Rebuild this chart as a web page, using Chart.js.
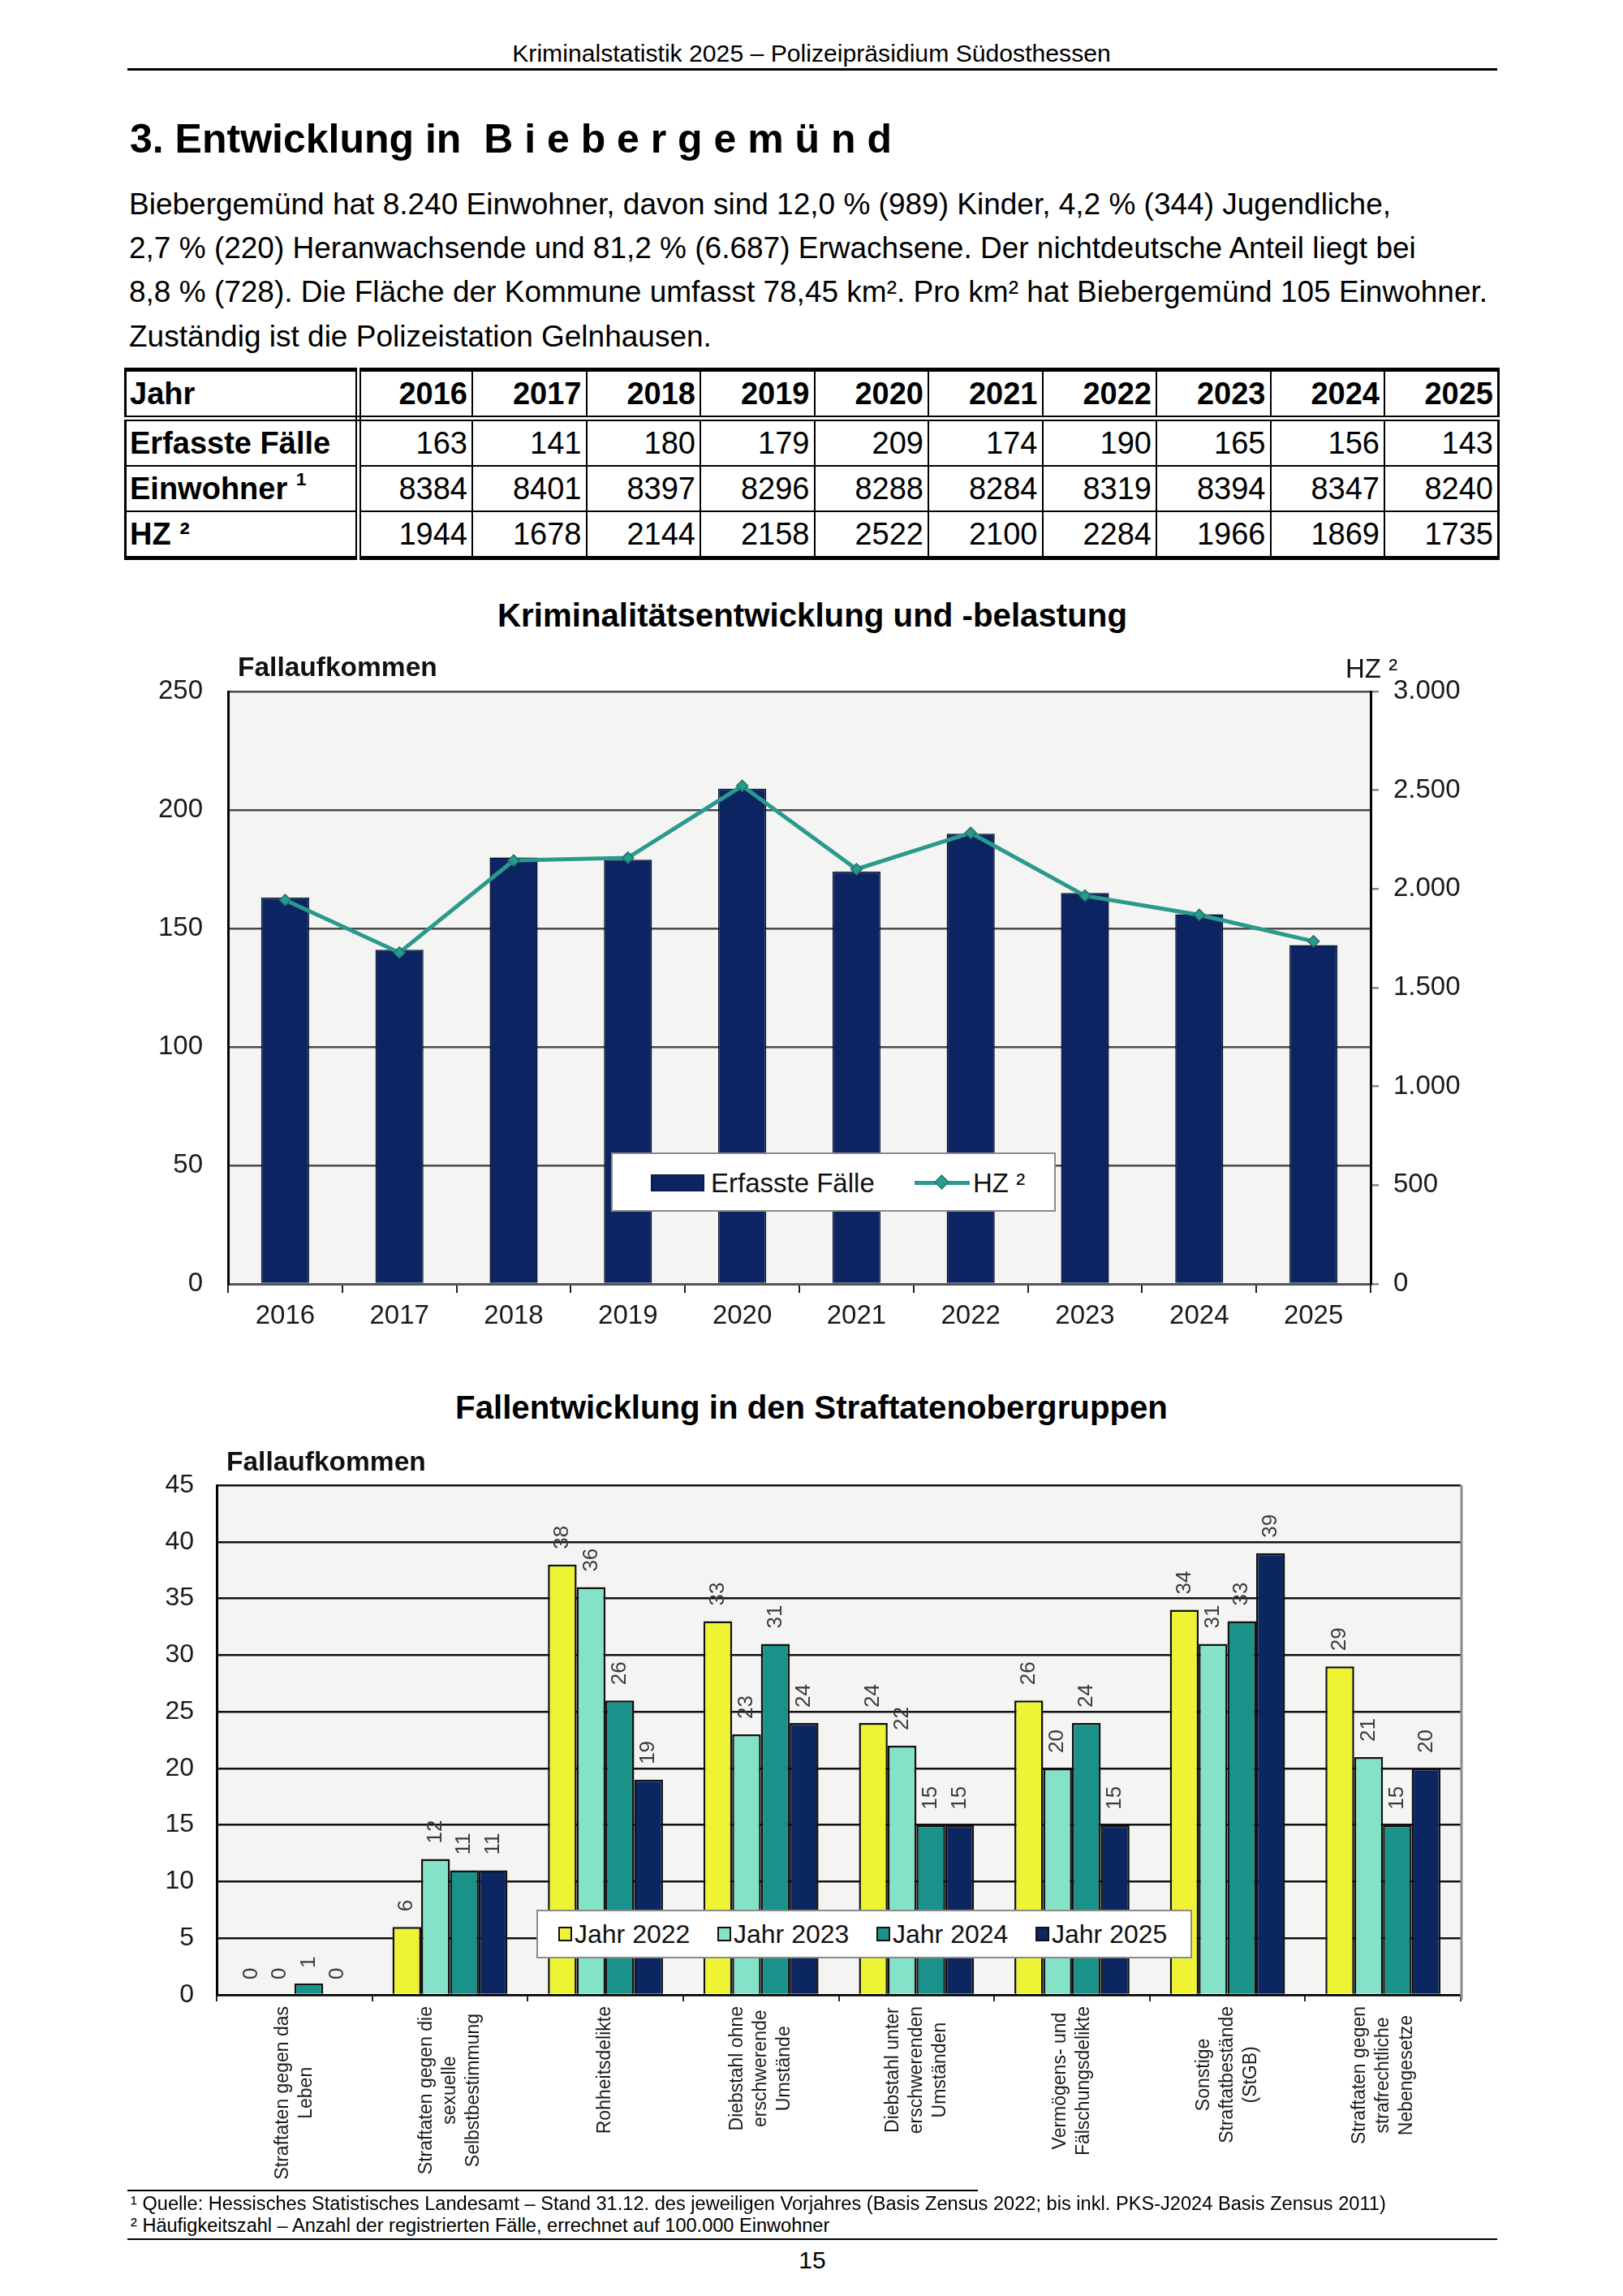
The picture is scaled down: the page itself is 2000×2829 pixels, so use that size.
<!DOCTYPE html>
<html lang="de">
<head>
<meta charset="utf-8">
<title>Kriminalstatistik 2025 – Biebergemünd</title>
<script src="https://cdn.jsdelivr.net/npm/chart.js@4.4.1/dist/chart.umd.min.js"></script>
<style>
html,body{margin:0;padding:0;background:#fff;}
#page{position:relative;width:2000px;height:2829px;overflow:hidden;background:#fff;font-family:'Liberation Sans',Arial,Helvetica,sans-serif;color:#000;}
.t{position:absolute;white-space:pre;line-height:1;}
.rule{position:absolute;background:#000;}
canvas{position:absolute;}
#tbl{position:absolute;left:153px;top:453px;width:1695px;border-collapse:collapse;table-layout:fixed;font-size:38px;}
#tbl td{border:2px solid #000;height:54px;padding:0 5px 0 0;text-align:right;line-height:1;vertical-align:middle;}
#tbl tr:first-child td{font-weight:bold;border-bottom:7px double #000;border-top:5px solid #000;}
#tbl tr:last-child td{border-bottom:5px solid #000;}
#tbl td:first-child{text-align:left;font-weight:bold;padding-left:4px;border-right:7px double #000;border-left:3px solid #000;}
#tbl td:last-child{border-right:3px solid #000;}
#tbl sup{font-size:0.6em;line-height:0;vertical-align:0.75em;}
.legend{position:absolute;background:#fff;border:2px solid #8a8a8a;box-sizing:border-box;}
.lg-item{position:absolute;white-space:nowrap;line-height:1;}
</style>
</head>
<body>
<div id="page">
  <div class="t" data-f="31" data-w="738" data-cx="1000" data-cy="66">Kriminalstatistik 2025 – Polizeipräsidium Südosthessen</div>
  <div class="rule" style="left:157px;top:84px;width:1688px;height:3px;"></div>

  <div class="t" style="font-weight:bold;left:160px;" data-f="50" data-cy="171">3. Entwicklung in  B i e b e r g e m ü n d</div>

  <div class="t" style="left:159px;" data-f="37" data-cy="251">Biebergemünd hat 8.240 Einwohner, davon sind 12,0 % (989) Kinder, 4,2 % (344) Jugendliche,</div>
  <div class="t" style="left:159px;" data-f="37" data-cy="305">2,7 % (220) Heranwachsende und 81,2 % (6.687) Erwachsene. Der nichtdeutsche Anteil liegt bei</div>
  <div class="t" style="left:159px;" data-f="37" data-cy="359">8,8 % (728). Die Fläche der Kommune umfasst 78,45 km². Pro km² hat Biebergemünd 105 Einwohner.</div>
  <div class="t" style="left:159px;" data-f="37" data-cy="414">Zuständig ist die Polizeistation Gelnhausen.</div>

  <table id="tbl"></table>

  <div class="t" style="font-weight:bold;" data-f="40" data-w="776" data-cx="1001" data-cy="759">Kriminalitätsentwicklung und -belastung</div>
  <canvas id="c1" width="1700" height="880" style="left:150px;top:780px;width:1700px;height:880px;"></canvas>
  <div class="t" style="font-weight:bold;left:293px;color:#111;" data-f="33.5" data-cy="822">Fallaufkommen</div>
  <div class="t" style="left:1658px;color:#111;" data-f="33" data-cy="823">HZ ²</div>
  <div class="legend" id="lg1" style="left:753px;top:1420px;width:548px;height:73px;"></div>

  <div class="t" style="font-weight:bold;" data-f="40" data-w="878" data-cx="1000" data-cy="1735">Fallentwicklung in den Straftatenobergruppen</div>
  <canvas id="c2" width="1700" height="930" style="left:150px;top:1770px;width:1700px;height:930px;"></canvas>
  <div class="t" style="font-weight:bold;left:279px;color:#111;" data-f="33.5" data-cy="1801">Fallaufkommen</div>
  <div class="legend" id="lg2" style="left:661px;top:2353px;width:808px;height:60px;"></div>

  <div class="rule" style="left:157px;top:2698px;width:1048px;height:2px;"></div>
  <div class="t" style="left:161px;" data-f="23" data-w="1547" data-cy="2716">¹ Quelle: Hessisches Statistisches Landesamt – Stand 31.12. des jeweiligen Vorjahres (Basis Zensus 2022; bis inkl. PKS-J2024 Basis Zensus 2011)</div>
  <div class="t" style="left:161px;" data-f="23" data-w="862" data-cy="2743">² Häufigkeitszahl – Anzahl der registrierten Fälle, errechnet auf 100.000 Einwohner</div>
  <div class="rule" style="left:157px;top:2758px;width:1688px;height:2px;"></div>
  <div class="t" data-f="30" data-cx="1001" data-cy="2785">15</div>
</div>

<script>
// ---------- data ----------
const years = ['2016','2017','2018','2019','2020','2021','2022','2023','2024','2025'];
const cases = [163, 141, 180, 179, 209, 174, 190, 165, 156, 143];
const population = [8384, 8401, 8397, 8296, 8288, 8284, 8319, 8394, 8347, 8240];
const hzValues = [1944, 1678, 2144, 2158, 2522, 2100, 2284, 1966, 1869, 1735];

const tableRowLabels = ['Jahr', 'Erfasste Fälle', 'Einwohner <sup>1</sup>', 'HZ ²'];
const chart1SeriesNames = ['Erfasste Fälle', 'HZ ²'];

const groupLabels = [
  ['Straftaten gegen das', 'Leben'],
  ['Straftaten gegen die', 'sexuelle', 'Selbstbestimmung'],
  ['Rohheitsdelikte'],
  ['Diebstahl ohne', 'erschwerende', 'Umstände'],
  ['Diebstahl unter', 'erschwerenden', 'Umständen'],
  ['Vermögens- und', 'Fälschungsdelikte'],
  ['Sonstige', 'Straftatbestände', '(StGB)'],
  ['Straftaten gegen', 'strafrechtliche', 'Nebengesetze']
];
const seriesNames = ['Jahr 2022', 'Jahr 2023', 'Jahr 2024', 'Jahr 2025'];
const series2022 = [0, 6, 38, 33, 24, 26, 34, 29];
const series2023 = [0, 12, 36, 23, 22, 20, 31, 21];
const series2024 = [1, 11, 26, 31, 15, 24, 33, 15];
const series2025 = [0, 11, 19, 24, 15, 15, 39, 20];

// ---------- styles ----------
const FONT = "'Liberation Sans', Arial, Helvetica, sans-serif";
const NAVY = '#0c2462';
const TEAL_LINE = '#2b998d';
const seriesColors = ['#eef434', '#84e2c9', '#1a9189', '#0c2662'];

// ---------- text placement ----------
document.querySelectorAll('.t').forEach(el => {
  let F = parseFloat(el.dataset.f);
  el.style.fontSize = F + 'px';
  if (el.dataset.w) {
    const w = el.getBoundingClientRect().width;
    F = F * parseFloat(el.dataset.w) / w;
    el.style.fontSize = F + 'px';
  }
  const w2 = el.getBoundingClientRect().width;
  if (el.dataset.cx) el.style.left = (parseFloat(el.dataset.cx) - w2 / 2) + 'px';
  el.style.top = (parseFloat(el.dataset.cy) - F * 0.5) + 'px';
});

// ---------- table ----------
(function buildTable() {
  const tbl = document.getElementById('tbl');
  const rows = [years, cases, population, hzValues];
  let html = '<colgroup><col style="width:287px">' + years.map(() => '<col>').join('') + '</colgroup>';
  rows.forEach((r, i) => {
    html += '<tr><td>' + tableRowLabels[i] + '</td>' + r.map(v => '<td>' + v + '</td>').join('') + '</tr>';
  });
  tbl.innerHTML = html;
})();

// ---------- helpers ----------
function fmtDE(v) {
  return String(v).replace(/\B(?=(\d{3})+(?!\d))/g, '.');
}
const plotBg = {
  id: 'plotBg',
  beforeDraw(chart, args, opts) {
    const a = chart.chartArea, ctx = chart.ctx;
    ctx.save();
    ctx.fillStyle = opts.color || '#f4f5f3';
    ctx.fillRect(a.left, a.top, a.right - a.left, a.bottom - a.top);
    ctx.restore();
  },
  afterDraw(chart, args, opts) {
    if (!opts.rightBorder) return;
    const a = chart.chartArea, ctx = chart.ctx;
    ctx.save();
    ctx.strokeStyle = opts.rightBorder;
    ctx.lineWidth = 3;
    ctx.beginPath();
    ctx.moveTo(a.right + 1, a.top);
    ctx.lineTo(a.right + 1, a.bottom + 6);
    ctx.stroke();
    ctx.restore();
  }
};

Chart.defaults.font.family = FONT;
Chart.defaults.color = '#1a1a1a';

// ---------- chart 1 ----------
new Chart(document.getElementById('c1'), {
  type: 'bar',
  data: {
    labels: years,
    datasets: [
      {
        type: 'line', label: chart1SeriesNames[1], data: hzValues, yAxisID: 'yR',
        borderColor: TEAL_LINE, borderWidth: 5, tension: 0,
        pointStyle: 'rectRot', pointRadius: 7, pointBackgroundColor: TEAL_LINE,
        pointBorderColor: '#1f7269', pointBorderWidth: 1.5, order: 0
      },
      {
        type: 'bar', label: chart1SeriesNames[0], data: cases, yAxisID: 'yL',
        backgroundColor: NAVY, borderColor: '#05112f', borderWidth: 1.5,
        barPercentage: 0.42, categoryPercentage: 1, order: 1
      }
    ]
  },
  options: {
    responsive: false, animation: false, devicePixelRatio: 1,
    layout: { padding: { top: 72, left: 0, right: 0, bottom: 0 } },
    plugins: { legend: { display: false }, tooltip: { enabled: false }, title: { display: false },
      plotBg: { color: '#f4f5f3' } },
    scales: {
      x: {
        offset: true,
        grid: { offset: true, drawOnChartArea: false, tickLength: 11, color: '#222', lineWidth: 2 },
        border: { display: true, color: '#555', width: 3 },
        ticks: { font: { size: 33 }, color: '#1a1a1a', padding: 9, maxRotation: 0, minRotation: 0 },
        afterFit(s) { s.height = 78; }
      },
      yL: {
        position: 'left', min: 0, max: 250,
        ticks: { stepSize: 50, font: { size: 33 }, padding: 31, color: '#1a1a1a' },
        grid: { color: '#4a4a4a', lineWidth: 2.5, drawTicks: false },
        border: { color: '#000', width: 3 },
        afterFit(s) { s.width = 131; }
      },
      yR: {
        position: 'right', min: 0, max: 3000,
        ticks: { stepSize: 500, font: { size: 33 }, padding: 18, color: '#1a1a1a', callback: v => fmtDE(v) },
        grid: { drawOnChartArea: false, tickLength: 10, color: '#888', lineWidth: 2.5 },
        border: { color: '#000', width: 3 },
        afterFit(s) { s.width = 161; }
      }
    }
  },
  plugins: [plotBg]
});

// legend 1 (HTML, from series names / colours)
(function legend1() {
  const lg = document.getElementById('lg1');
  lg.innerHTML =
    '<div class="lg-item" style="left:47px;top:25px;width:66px;height:21px;background:' + NAVY + ';border:1px solid #05112f;box-sizing:border-box;"></div>' +
    '<div class="lg-item" style="left:121px;top:19px;font-size:33px;color:#111;">' + chart1SeriesNames[0] + '</div>' +
    '<div class="lg-item" style="left:372px;top:33px;width:68px;height:5px;background:' + TEAL_LINE + ';"></div>' +
    '<div class="lg-item" style="left:399px;top:28px;width:11px;height:11px;background:' + TEAL_LINE + ';border:1px solid #1f7269;transform:rotate(45deg);"></div>' +
    '<div class="lg-item" style="left:444px;top:19px;font-size:33px;color:#111;">' + chart1SeriesNames[1] + '</div>';
})();

// ---------- chart 2 ----------
const valueLabels = {
  id: 'valueLabels',
  afterDatasetsDraw(chart) {
    const ctx = chart.ctx;
    ctx.save();
    ctx.font = '26px ' + FONT;
    ctx.fillStyle = '#3a3a3a';
    ctx.textAlign = 'left';
    ctx.textBaseline = 'middle';
    chart.data.datasets.forEach((ds, di) => {
      const meta = chart.getDatasetMeta(di);
      meta.data.forEach((el, i) => {
        ctx.save();
        ctx.translate(el.x, el.y - 19);
        ctx.rotate(-Math.PI / 2);
        ctx.fillText(String(ds.data[i]), 0, 0);
        ctx.restore();
      });
    });
    ctx.restore();
  }
};
const categoryLabels = {
  id: 'categoryLabels',
  afterDraw(chart) {
    const ctx = chart.ctx, xs = chart.scales.x;
    ctx.save();
    ctx.font = '23px ' + FONT;
    ctx.fillStyle = '#1a1a1a';
    ctx.textAlign = 'center';
    ctx.textBaseline = 'middle';
    const lh = 29;
    chart.data.labels.forEach((lines, i) => {
      const x = xs.getPixelForValue(i);
      const maxW = Math.max(...lines.map(l => ctx.measureText(l).width));
      ctx.save();
      ctx.translate(x, xs.top + 14);
      ctx.rotate(-Math.PI / 2);
      lines.forEach((l, k) => {
        ctx.fillText(l, -maxW / 2, (k - (lines.length - 1) / 2) * lh);
      });
      ctx.restore();
    });
    ctx.restore();
  }
};

const allSeries = [series2022, series2023, series2024, series2025];
new Chart(document.getElementById('c2'), {
  type: 'bar',
  data: {
    labels: groupLabels,
    datasets: allSeries.map((d, i) => ({
      label: seriesNames[i], data: d,
      backgroundColor: seriesColors[i], borderColor: '#111', borderWidth: 2.5,
      categoryPercentage: 0.74, barPercentage: 1
    }))
  },
  options: {
    responsive: false, animation: false, devicePixelRatio: 1,
    layout: { padding: { top: 60, left: 0, right: 50, bottom: 0 } },
    plugins: { legend: { display: false }, tooltip: { enabled: false }, title: { display: false },
      plotBg: { color: '#f4f5f3', rightBorder: '#8c8c8c' } },
    scales: {
      x: {
        offset: true,
        grid: { offset: true, drawOnChartArea: false, tickLength: 8, color: '#222', lineWidth: 2 },
        border: { display: true, color: '#000', width: 2.5 },
        ticks: { display: false },
        afterFit(s) { s.height = 242; }
      },
      y: {
        min: 0, max: 45,
        ticks: { stepSize: 5, font: { size: 32 }, padding: 28, color: '#1a1a1a' },
        grid: { color: '#111', lineWidth: 2.5, drawTicks: false },
        border: { color: '#000', width: 3 },
        afterFit(s) { s.width = 117; }
      }
    }
  },
  plugins: [plotBg, valueLabels, categoryLabels]
});

// legend 2 (HTML, from series names / colours)
(function legend2() {
  const lg = document.getElementById('lg2');
  let html = '';
  seriesNames.forEach((n, i) => {
    const x = 25 + i * 196;
    html += '<div class="lg-item" style="left:' + x + 'px;top:19px;width:17px;height:18px;background:' + seriesColors[i] + ';border:2px solid #111;box-sizing:border-box;"></div>';
    html += '<div class="lg-item" style="left:' + (x + 20) + 'px;top:12px;font-size:32px;color:#111;">' + n + '</div>';
  });
  lg.innerHTML = html;
})();
</script>
</body>
</html>
